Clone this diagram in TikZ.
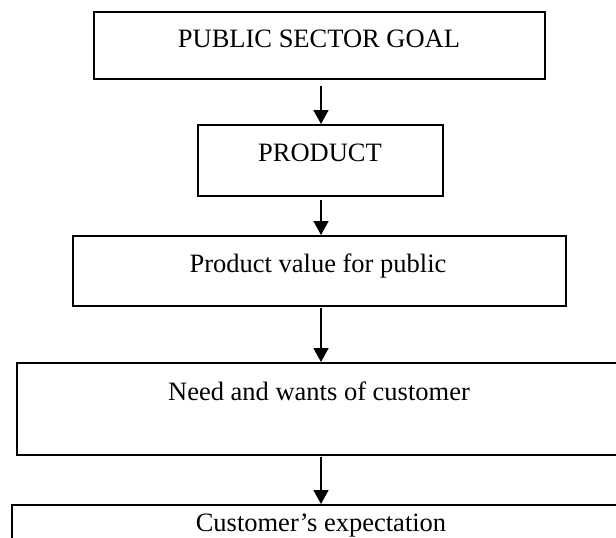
\documentclass[tikz,border=0pt]{standalone}
\usepackage{fontspec}
\setmainfont{Liberation Serif}
\usetikzlibrary{arrows.meta}
\begin{document}
\begin{tikzpicture}[x=1pt,y=-1pt,
  box/.style={draw=black, line width=2pt, rectangle, inner sep=0pt, fill=white},
  txt/.style={anchor=base, inner sep=0pt, font=\fontsize{26.5}{30}\selectfont},
  arr/.style={draw=black, line width=1.8pt, -{Triangle[width=15pt,length=14pt]}}]
\clip (0,0) rectangle (616,538);
\fill[white] (0,0) rectangle (616,538);
\node[box, minimum width=451pt, minimum height=67pt] (b1) at (319.5,45.5) {};
\node[box, minimum width=245pt, minimum height=71pt] (b2) at (320.5,160.5) {};
\node[box, minimum width=493pt, minimum height=70pt] (b3) at (319.5,271) {};
\node[box, minimum width=623pt, minimum height=92pt] (b4) at (328.5,409) {};
\node[box, minimum width=628pt, minimum height=95pt] (b5) at (326,552.5) {};
\node[txt] (t1) at (319,47) {PUBLIC SECTOR GOAL};
\node[txt] (t2) at (320,161) {PRODUCT};
\node[txt] (t3) at (318,272) {Product value for public};
\node[txt] (t4) at (319,400) {Need and wants of customer};
\node[txt] (t5) at (321,531) {Customer’s expectation};
\coordinate (a1s) at ([yshift=-6pt]b1.south -| 321,0);
\coordinate (a2s) at ([yshift=-3pt]b2.south -| 321,0);
\coordinate (a3s) at ([yshift=-1pt]b3.south -| 321,0);
\coordinate (a4s) at ([yshift=-1pt]b4.south -| 321,0);
\draw[arr] (a1s) -- (a1s |- b2.north);
\draw[arr] (a2s) -- (a2s |- b3.north);
\draw[arr] (a3s) -- (a3s |- b4.north);
\draw[arr] (a4s) -- (a4s |- b5.north);
\end{tikzpicture}
\end{document}
